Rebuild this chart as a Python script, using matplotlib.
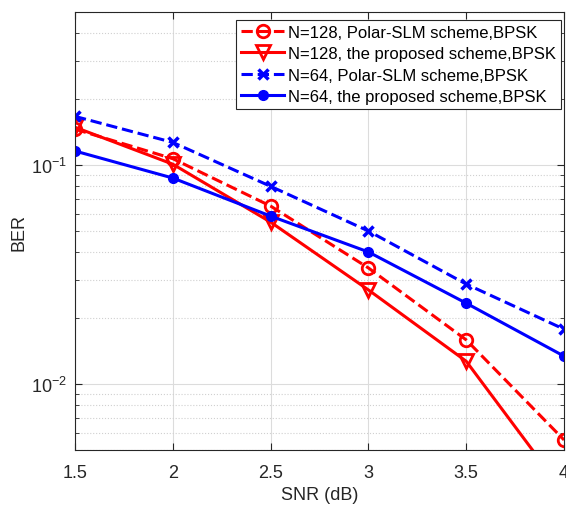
import numpy as np
import matplotlib.pyplot as plt
from matplotlib.ticker import LogLocator, NullFormatter

# ========== DATA ==========
snr = [1.5, 2.0, 2.5, 3.0, 3.5, 4.0]
ber_128_slm = [0.146, 0.107, 0.065, 0.0339, 0.0159, 0.00555]
ber_128_prop = [0.149, 0.101, 0.0549, 0.0269, 0.0127, 0.0032]
ber_64_slm = [0.167, 0.127, 0.080, 0.050, 0.0286, 0.0178]
ber_64_prop = [0.116, 0.0873, 0.0585, 0.0401, 0.0234, 0.0134]
labels = [
    "N=128, Polar-SLM scheme,BPSK",
    "N=128, the proposed scheme,BPSK",
    "N=64, Polar-SLM scheme,BPSK",
    "N=64, the proposed scheme,BPSK",
]
# ==========================

plt.rcParams["font.family"] = ["Liberation Sans", "DejaVu Sans"]
plt.rcParams["mathtext.fontset"] = "custom"
plt.rcParams["mathtext.rm"] = "Liberation Sans"
plt.rcParams["mathtext.it"] = "Liberation Sans:italic"

fig = plt.figure(figsize=(5.66, 5.06), dpi=100)
ax = fig.add_axes([0.1325, 0.109, 0.864, 0.865])

lw = 2.2
ax.semilogy(snr, ber_128_slm, "r--o", lw=lw, ms=9, mfc="none", mew=2, label=labels[0])
ax.semilogy(snr, ber_128_prop, "r-v", lw=lw, ms=10, mfc="none", mew=2, label=labels[1])
ax.semilogy(snr, ber_64_slm, "b--x", lw=lw, ms=7, mew=2.5, label=labels[2])
ax.semilogy(snr, ber_64_prop, "b-o", lw=lw, ms=7, label=labels[3])

ax.set_xlim(1.5, 4)
ax.set_ylim(0.005, 0.5)
ax.set_xticks(snr)
ax.set_xticklabels(["1.5", "2", "2.5", "3", "3.5", "4"])
ax.yaxis.set_major_locator(LogLocator(base=10, numticks=10))
ax.yaxis.set_minor_locator(LogLocator(base=10, subs=np.arange(2, 10), numticks=20))
ax.yaxis.set_minor_formatter(NullFormatter())

ax.grid(True, which="major", color="#dcdcdc", lw=0.8, ls="-")
ax.grid(True, which="minor", axis="y", color="#d0d0d0", lw=0.8, ls=":")
ax.set_axisbelow(True)

ax.tick_params(which="both", direction="in", top=True, right=True, labelsize=13, colors="#262626")
ax.tick_params(which="major", length=5)
ax.tick_params(which="minor", length=3)
ax.tick_params(axis="x", pad=10)
ax.tick_params(axis="y", pad=6)
for s in ax.spines.values():
    s.set_color("#262626")
    s.set_linewidth(0.8)

ax.set_xlabel("SNR (dB)", fontsize=13, color="#262626", labelpad=4)
ax.set_ylabel("BER", fontsize=13, color="#262626", labelpad=2)

leg = ax.legend(loc="upper right", bbox_to_anchor=(1.0, 0.99), fontsize=12,
                handlelength=2.6, labelspacing=0.38, borderpad=0.3, handletextpad=0.2,
                borderaxespad=0.2, fancybox=False, framealpha=1, edgecolor="#262626")
leg.get_frame().set_linewidth(0.8)

fig.savefig("out.png", dpi=100)
